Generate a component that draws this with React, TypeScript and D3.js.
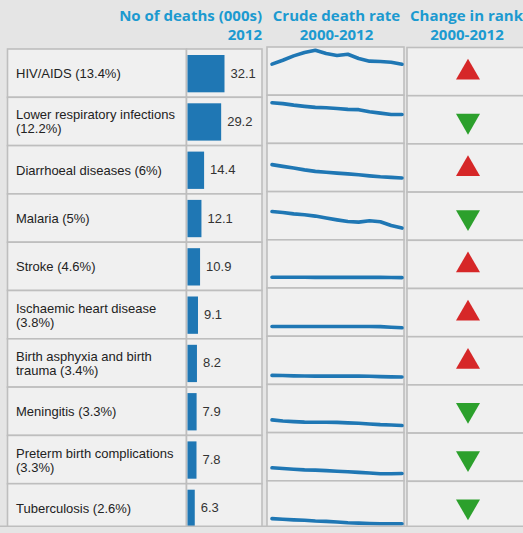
import React from "react";
import * as d3 from "d3";

// ---------- data ----------
const labelLines: string[][] = [
  ["HIV/AIDS (13.4%)"],
  ["Lower respiratory infections", "(12.2%)"],
  ["Diarrhoeal diseases (6%)"],
  ["Malaria (5%)"],
  ["Stroke (4.6%)"],
  ["Ischaemic heart disease", "(3.8%)"],
  ["Birth asphyxia and birth", "trauma (3.4%)"],
  ["Meningitis (3.3%)"],
  ["Preterm birth complications", "(3.3%)"],
  ["Tuberculosis (2.6%)"],
];
const deaths2012 = [32.1, 29.2, 14.4, 12.1, 10.9, 9.1, 8.2, 7.9, 7.8, 6.3];
const rankChange = ["up", "down", "up", "down", "up", "up", "up", "down", "down", "down"];
const years = [2000, 2001, 2002, 2003, 2004, 2005, 2006, 2007, 2008, 2009, 2010, 2011, 2012];

// crude death rate per 100 000, 2000-2012
const rateHIV = [207, 233, 262, 285, 300, 278, 265, 273, 245, 227, 225, 220, 207];
const rateLRI = [271, 265, 255, 247, 240, 238, 233, 227, 225, 211, 202, 193, 193];
const rateDiarrhoea = [180, 168, 157, 145, 135, 129, 123, 118, 112, 105, 99, 95, 91];
const rateMalaria = [189, 182, 173, 167, 158, 145, 133, 122, 118, 127, 120, 95, 78];
const rateStroke = [72, 72, 72, 72, 71, 71, 71, 71, 71, 71, 71, 70, 69];
const rateIHD = [65, 65, 65, 65, 65, 65, 65, 65, 65, 65, 64, 60, 56];
const rateAsphyxia = [60, 59, 57, 56, 55, 55, 55, 55, 55, 54, 52, 50, 49];
const rateMeningitis = [85, 77, 73, 70, 69, 69, 68, 65, 62, 57, 53, 51, 47];
const ratePreterm = [87, 82, 77, 73, 71, 68, 64, 60, 56, 52, 47, 47, 49];
const rateTB = [69, 65, 61, 58, 53, 51, 47, 42, 39, 37, 35, 35, 35];
const crudeRates = [
  rateHIV, rateLRI, rateDiarrhoea, rateMalaria, rateStroke,
  rateIHD, rateAsphyxia, rateMeningitis, ratePreterm, rateTB,
];

// ---------- style ----------
const W = 523;
const H = 533;
const BG = "#e5e5e5";
const CELL = "#f0f0f0";
const BORDER = "#bebebe";
const BLUE = "#1f77b4";
const RED = "#d62728";
const GREEN = "#2ca02c";
const HEAD = "#1c9ad0";
const CLIP_Y = 527;
const idx = d3.range(labelLines.length);

export default function App() {
  // column 1: labels + bars
  const c1 = { x0: 7.5, xDiv: 186.5, x1: 262 };
  const rows1 = d3.scaleBand<number>().domain(idx).range([49, 49 + 48.3 * 10]).padding(0);
  const bw = rows1.bandwidth();
  const xBar = d3.scaleLinear().domain([0, 32.1]).range([0, 37]);

  // column 2: sparklines
  const c2 = { x0: 267, x1: 404 };
  const rows2 = d3.scaleBand<number>().domain(idx).range([47, 47 + 48.2 * 10]).padding(0);
  const xSpark = d3.scalePoint<number>().domain(years).range([272, 402]);
  const hSpark = d3.scaleLinear().domain([0, 320]).range([0, 48]);

  // column 3: triangles
  const c3 = { x0: 407, x1: 535 };
  const rows3 = d3.scaleBand<number>().domain(idx).range([47.5, 47.5 + 48.2 * 10]).padding(0);
  const triUp = d3.symbol().type(d3.symbolTriangle).size(250)();
  const triCx = 468;

  const font = "'Liberation Sans', Arial, sans-serif";
  const headFont = "'Open Sans', sans-serif";

  return (
    <svg
      width={W}
      height={H}
      style={{ position: "absolute", left: 0, top: 0, background: BG }}
    >
      <defs>
        <clipPath id="tbl">
          <rect x={0} y={0} width={W} height={CLIP_Y} />
        </clipPath>
      </defs>
      <rect x={0} y={0} width={W} height={H} fill={BG} />

      {/* headers */}
      <g fontFamily={headFont} fontWeight={700} fontSize={15} fill={HEAD}>
        <text x={262} y={20.5} textAnchor="end">No of deaths (000s)</text>
        <text x={262} y={39.5} textAnchor="end">2012</text>
        <text x={336.5} y={20.5} textAnchor="middle">Crude death rate</text>
        <text x={336.5} y={39.5} textAnchor="middle">2000-2012</text>
        <text x={466.5} y={20.5} textAnchor="middle">Change in rank</text>
        <text x={467} y={39.5} textAnchor="middle">2000-2012</text>
      </g>

      <g clipPath="url(#tbl)">
        {/* column 1 */}
        {idx.map((i) => {
          const y = rows1(i)!;
          const cy = y + bw / 2;
          const lines = labelLines[i];
          const bx = c1.xDiv + 1;
          const barW = xBar(deaths2012[i]);
          return (
            <g key={"c1" + i}>
              <rect x={c1.x0} y={y} width={c1.xDiv - c1.x0} height={bw} fill={CELL} stroke={BORDER} strokeWidth={1.6} />
              <rect x={c1.xDiv} y={y} width={c1.x1 - c1.xDiv} height={bw} fill={CELL} stroke={BORDER} strokeWidth={1.6} />
              <g fontFamily={font} fontSize={13} fill="#222">
                {lines.length === 1 ? (
                  <text x={16} y={cy + 5}>{lines[0]}</text>
                ) : (
                  lines.map((l, k) => (
                    <text key={k} x={16} y={cy - 2 + k * 14}>{l}</text>
                  ))
                )}
              </g>
              <rect x={bx} y={y + 6} width={barW} height={bw - 11} fill={BLUE} />
              <text x={bx + barW + 6} y={cy + 4.5} fontFamily={font} fontSize={13} fill="#333">
                {deaths2012[i].toFixed(1)}
              </text>
            </g>
          );
        })}

        {/* column 2 */}
        {idx.map((i) => {
          const y = rows2(i)!;
          const bottom = y + rows2.bandwidth();
          const line = d3
            .line<number>()
            .x((_, k) => xSpark(years[k])!)
            .y((v) => bottom - hSpark(v));
          return (
            <g key={"c2" + i}>
              <rect x={c2.x0} y={y} width={c2.x1 - c2.x0} height={rows2.bandwidth()} fill={CELL} stroke={BORDER} strokeWidth={1.6} />
              <path d={line(crudeRates[i]) || ""} fill="none" stroke={BLUE} strokeWidth={3.6} strokeLinecap="round" strokeLinejoin="round" />
            </g>
          );
        })}

        {/* column 3 */}
        {idx.map((i) => {
          const y = rows3(i)!;
          const cy = y + rows3.bandwidth() / 2 + 1;
          const up = rankChange[i] === "up";
          return (
            <g key={"c3" + i}>
              <rect x={c3.x0} y={y} width={c3.x1 - c3.x0} height={rows3.bandwidth()} fill={CELL} stroke={BORDER} strokeWidth={1.6} />
              <path
                d={triUp || ""}
                transform={`translate(${triCx},${cy}) ${up ? "" : "rotate(180)"}`}
                fill={up ? RED : GREEN}
              />
            </g>
          );
        })}
        <line x1={0} x2={W} y1={CLIP_Y - 0.8} y2={CLIP_Y - 0.8} stroke={BORDER} strokeWidth={1.6} />
      </g>
    </svg>
  );
}
